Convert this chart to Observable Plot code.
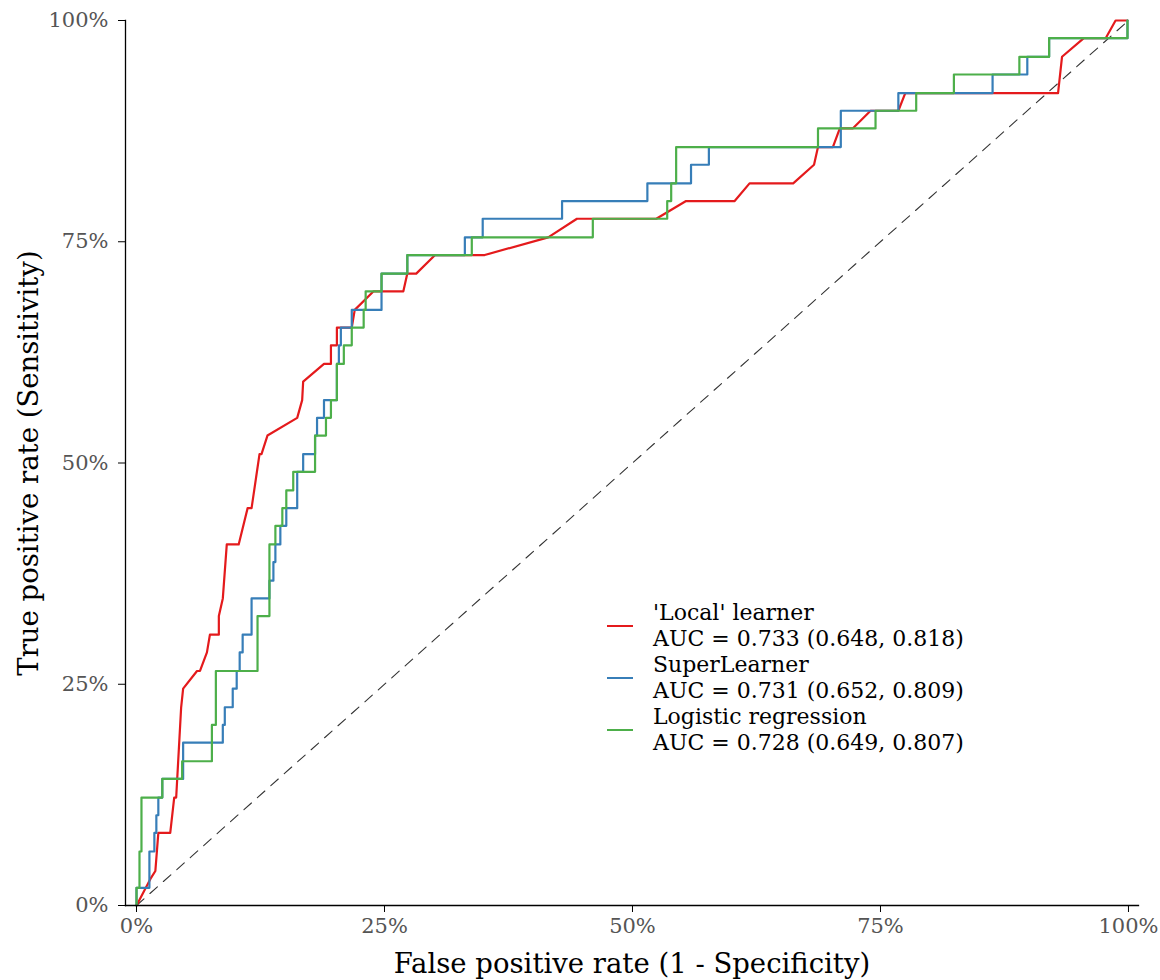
<!DOCTYPE html>
<html>
<head>
<meta charset="utf-8">
<script src="https://cdn.jsdelivr.net/npm/d3@7"></script>
<script src="https://cdn.jsdelivr.net/npm/@observablehq/plot@0.6"></script>
<style>
  body { margin: 0; background: #fff; }
  #chart { position: relative; width: 1160px; height: 980px; font-family: "DejaVu Serif", "Liberation Serif", serif; }
  #legend { position: absolute; left: 607px; top: 600px; font-size: 22px; line-height: 26px; color: #000; }
  .entry { display: flex; align-items: center; height: 52px; }
  .key { width: 26px; height: 2px; margin-right: 20px; }
</style>
</head>
<body>
<div id="chart"></div>
<script>
// ROC curves on the hold-out set (49 positive cases)
const models = ["'Local' learner", "SuperLearner", "Logistic regression"];
const aucLabels = [
  "AUC = 0.733 (0.648, 0.818)",
  "AUC = 0.731 (0.652, 0.809)",
  "AUC = 0.728 (0.649, 0.807)"
];
const colors = ["#E41A1C", "#377EB8", "#4DAF4A"];

// 'Local' learner: piecewise linear (tied scores give sloped segments)
const localFpr = [0, 0.014, 0.019, 0.022, 0.034, 0.038, 0.040, 0.045, 0.047, 0.061,
  0.064, 0.071, 0.074, 0.083, 0.083, 0.087, 0.091, 0.103, 0.112, 0.116,
  0.124, 0.126, 0.132, 0.162, 0.167, 0.168, 0.189, 0.196, 0.196, 0.202,
  0.202, 0.217, 0.220, 0.239, 0.269, 0.273, 0.282, 0.301, 0.351, 0.415,
  0.444, 0.524, 0.554, 0.603, 0.618, 0.662, 0.683, 0.687, 0.702, 0.709,
  0.722, 0.740, 0.768, 0.775, 0.929, 0.933, 0.955, 0.977, 0.987, 0.999];
const localTpr = [0, 0.030, 0.039, 0.082, 0.082, 0.122, 0.122, 0.224, 0.245, 0.265,
  0.265, 0.286, 0.306, 0.306, 0.327, 0.347, 0.408, 0.408, 0.449, 0.449,
  0.510, 0.510, 0.531, 0.551, 0.571, 0.592, 0.612, 0.612, 0.633, 0.633,
  0.653, 0.653, 0.673, 0.694, 0.694, 0.714, 0.714, 0.735, 0.735, 0.755,
  0.776, 0.776, 0.796, 0.796, 0.816, 0.816, 0.837, 0.857, 0.857, 0.878,
  0.878, 0.898, 0.898, 0.918, 0.918, 0.959, 0.980, 0.980, 1.000, 1.000];

// SuperLearner: step curve, one point per threshold
const superFpr = [0, 0, 0.013, 0.018, 0.020, 0.022, 0.026, 0.047, 0.087, 0.089, 0.097,
  0.101, 0.104, 0.107, 0.116, 0.134, 0.138, 0.140, 0.145, 0.151, 0.162,
  0.168, 0.180, 0.182, 0.189, 0.202, 0.204, 0.206, 0.217, 0.247, 0.273,
  0.331, 0.349, 0.429, 0.515, 0.559, 0.577, 0.710, 0.768, 0.863, 0.898,
  0.920, 0.999];
const superTpr = [0, 0.020, 0.061, 0.082, 0.102, 0.122, 0.143, 0.184, 0.204, 0.224, 0.245,
  0.265, 0.286, 0.306, 0.347, 0.367, 0.388, 0.408, 0.429, 0.449, 0.490,
  0.510, 0.531, 0.551, 0.571, 0.612, 0.633, 0.653, 0.673, 0.714, 0.735,
  0.755, 0.776, 0.796, 0.816, 0.837, 0.857, 0.898, 0.918, 0.939, 0.959,
  0.980, 1.000];

// Logistic regression: step curve, one point per threshold
const logitFpr = [0, 0, 0.003, 0.005, 0.026, 0.046, 0.076, 0.080, 0.122, 0.134, 0.140,
  0.147, 0.151, 0.158, 0.180, 0.191, 0.196, 0.202, 0.209, 0.217, 0.229,
  0.231, 0.247, 0.273, 0.338, 0.460, 0.535, 0.539, 0.544, 0.687, 0.745,
  0.786, 0.824, 0.890, 0.920, 0.999];
const logitTpr = [0, 0.020, 0.061, 0.122, 0.143, 0.163, 0.204, 0.265, 0.327, 0.408, 0.429,
  0.449, 0.469, 0.490, 0.531, 0.551, 0.571, 0.612, 0.633, 0.653, 0.673,
  0.694, 0.714, 0.735, 0.755, 0.776, 0.796, 0.816, 0.857, 0.878, 0.898,
  0.918, 0.939, 0.959, 0.980, 1.000];

const axisTicks = [0, 0.25, 0.5, 0.75, 1];
const chance = [0, 1];

const toRows = (fpr, tpr) => fpr.map((f, i) => ({fpr: f, tpr: tpr[i]}));
const localRows = toRows(localFpr, localTpr);
const superRows = toRows(superFpr, superTpr);
const logitRows = toRows(logitFpr, logitTpr);

const pct = d3.format(".0%");
const font = '"DejaVu Serif", "Liberation Serif", serif';

const chart = Plot.plot({
  width: 1160,
  height: 980,
  marginLeft: 125,
  marginRight: 22,
  marginTop: 20,
  marginBottom: 75,
  style: {fontFamily: font, background: "#fff", overflow: "visible"},
  x: {domain: [-0.0111, 1.0101]},
  y: {domain: [0, 1]},
  marks: [
    Plot.line(chance, {x: d => d, y: d => d, stroke: "#333", strokeWidth: 1.1, strokeDasharray: "10 8"}),
    Plot.line(localRows, {x: "fpr", y: "tpr", stroke: colors[0], strokeWidth: 2.2}),
    Plot.line(superRows, {x: "fpr", y: "tpr", stroke: colors[1], strokeWidth: 2.2, curve: "step-after"}),
    Plot.line(logitRows, {x: "fpr", y: "tpr", stroke: colors[2], strokeWidth: 2.2, curve: "step-after"}),
    Plot.frame({anchor: "left", stroke: "#000", strokeWidth: 1.3}),
    Plot.frame({anchor: "bottom", stroke: "#000", strokeWidth: 1.3}),
    Plot.axisX({ticks: axisTicks, tickFormat: pct, tickSize: 7, tickPadding: 6, fontSize: 21,
      stroke: "#000", fill: "#555", label: null}),
    Plot.axisY({ticks: axisTicks, tickFormat: pct, tickSize: 7, tickPadding: 10, fontSize: 21,
      stroke: "#000", fill: "#555", label: null}),
    Plot.text(["False positive rate (1 - Specificity)"], {frameAnchor: "bottom", dy: 67, fontSize: 27.5, fill: "#000"}),
    Plot.text(["True positive rate (Sensitivity)"], {frameAnchor: "left", dx: -96, rotate: -90, textAnchor: "middle", fontSize: 27.5, fill: "#000"})
  ]
});

const root = document.getElementById("chart");
root.appendChild(chart);

// Legend inside the panel: colour key plus model name and AUC (95% CI)
const legend = document.createElement("div");
legend.id = "legend";
models.forEach((m, i) => {
  const entry = document.createElement("div");
  entry.className = "entry";
  const key = document.createElement("div");
  key.className = "key";
  key.style.background = colors[i];
  const txt = document.createElement("div");
  txt.innerHTML = `<div>${m}</div><div>${aucLabels[i]}</div>`;
  entry.appendChild(key);
  entry.appendChild(txt);
  legend.appendChild(entry);
});
root.appendChild(legend);
</script>
</body>
</html>
